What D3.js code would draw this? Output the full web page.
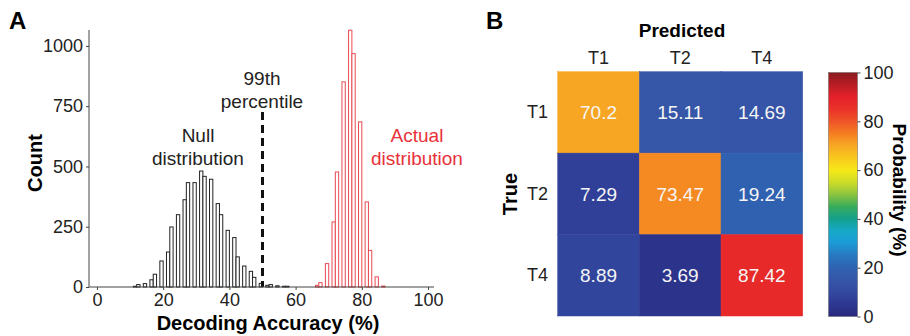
<!DOCTYPE html>
<html>
<head>
<meta charset="utf-8">
<script src="https://cdn.jsdelivr.net/npm/d3@7"></script>
<style>
  html, body { margin: 0; padding: 0; background: #fff; }
  svg { display: block; font-family: "Liberation Sans", Arial, sans-serif; }
</style>
</head>
<body>
<div id="chart"></div>
<script>
// ---- data ----
// panel A: histogram bins (left edge, % accuracy) and counts
const nullBins = [11, 12, 14, 16, 17, 19, 21, 22, 24, 26, 27, 29, 31, 32, 34, 36, 37, 39, 41, 42, 44, 46, 47, 49, 51, 52, 54, 56, 57];
const nullCounts = [3, 10, 14, 30, 53, 108, 145, 249, 300, 362, 433, 433, 481, 459, 447, 346, 300, 235, 205, 125, 87, 65, 40, 15, 7, 10, 5, 3, 3];
const actualBins = [66, 67, 69, 71, 72, 74, 76, 77, 79, 81, 82, 84, 86];
const actualCounts = [7, 18, 97, 270, 477, 851, 1065, 968, 685, 353, 152, 42, 4];
const percentile99 = 50;
const xTicks = [0, 20, 40, 60, 80, 100];
const yTicks = [0, 250, 500, 750, 1000];

// panel B: confusion matrix (rows = true, cols = predicted)
const predLabels = ["T1", "T2", "T4"];
const trueLabels = ["T1", "T2", "T4"];
const probs = [
    [70.2, 15.11, 14.69],
    [7.29, 73.47, 19.24],
    [8.89, 3.69, 87.42]
];
const cbTicks = [0, 20, 40, 60, 80, 100];

const W = 910, H = 336;
const red = "#e8313a";

const svg = d3.select("#chart").append("svg")
    .attr("width", W)
    .attr("height", H);

// ================= panel A =================
const x = d3.scaleLinear().domain([-2.4, 101.8]).range([89, 434]);
const y = d3.scaleLinear().domain([0, 1066]).range([287, 30]);

const gA = svg.append("g");

function drawBars(bins, counts, color) {
    gA.append("g").selectAll("rect")
        .data(bins.map((b, i) => ({ b, c: counts[i] })))
        .enter().append("rect")
        .attr("x", d => x(d.b))
        .attr("y", d => y(d.c))
        .attr("width", d => x(d.b + 1) - x(d.b))
        .attr("height", d => y(0) - y(d.c))
        .attr("fill", "#fff")
        .attr("stroke", color)
        .attr("stroke-width", 1);
}
drawBars(nullBins, nullCounts, "#222");
drawBars(actualBins, actualCounts, "#e84a52");

// 99th percentile marker
gA.append("line")
    .attr("x1", x(percentile99)).attr("x2", x(percentile99))
    .attr("y1", 112).attr("y2", y(0))
    .attr("stroke", "#111")
    .attr("stroke-width", 3)
    .attr("stroke-dasharray", "8,5");

// axes
const xAxis = d3.axisBottom(x).tickValues(xTicks).tickSize(3).tickPadding(3);
const yAxis = d3.axisLeft(y).tickValues(yTicks).tickSize(3).tickPadding(3).tickFormat(d3.format("d"));

const gx = gA.append("g").attr("transform", `translate(0,${y(0)})`).call(xAxis);
const gy = gA.append("g").attr("transform", `translate(${x.range()[0]},0)`).call(yAxis);
[gx, gy].forEach(g => {
    g.select(".domain").attr("stroke", "#444");
    g.selectAll(".tick line").attr("stroke", "#444");
    g.selectAll(".tick text").attr("font-size", 18).attr("fill", "#222")
        .attr("font-family", "Liberation Sans, Arial, sans-serif");
});
gx.select(".domain").attr("d", `M${x.range()[0]},0H${x.range()[1]}`);
gy.select(".domain").attr("d", `M0,${y.range()[0]}V${y.range()[1]}`);

// labels
gA.append("text").attr("x", 9).attr("y", 29)
    .attr("font-size", 24).attr("font-weight", "bold").text("A");

gA.append("text")
    .attr("transform", "translate(42,163) rotate(-90)")
    .attr("text-anchor", "middle")
    .attr("font-size", 20).attr("font-weight", "bold")
    .text("Count");

gA.append("text").attr("x", 268).attr("y", 330)
    .attr("text-anchor", "middle")
    .attr("font-size", 20).attr("font-weight", "bold")
    .text("Decoding Accuracy (%)");

const note = (tx, ty, lines, color) => {
    const t = gA.append("text").attr("text-anchor", "middle")
        .attr("font-size", 19).attr("fill", color);
    lines.forEach((s, i) => t.append("tspan").attr("x", tx).attr("y", ty + i * 23).text(s));
};
note(262, 85, ["99th", "percentile"], "#222");
note(198, 142, ["Null", "distribution"], "#222");
note(417, 142, ["Actual", "distribution"], red);

// ================= panel B =================
const gB = svg.append("g");

const color = d3.scaleLinear()
    .domain([0, 5, 10, 15, 20, 25, 30, 35, 40, 45, 50, 55, 60, 65, 70, 75, 80, 85, 90, 95, 100])
    .range(["#29287c", "#2d3790", "#3449a0", "#3656a8", "#2f62b2", "#2878c0", "#1c9ad6", "#16a9c8",
        "#14a08e", "#35ab5a", "#8cc43f", "#cddc28", "#f6e817", "#f8c81c", "#f7a823", "#f47d22",
        "#ef5527", "#eb3129", "#e4202a", "#b81d24", "#8a1b1f"])
    .interpolate(d3.interpolateRgb);

const cx = d3.scaleBand().domain(predLabels).range([557.7, 802.7]);
const cy = d3.scaleBand().domain(trueLabels).range([71.7, 316]);

const cells = probs.flatMap((row, i) => row.map((v, j) => ({ r: trueLabels[i], c: predLabels[j], v })));

gB.append("g").selectAll("rect")
    .data(cells).enter().append("rect")
    .attr("x", d => cx(d.c))
    .attr("y", d => cy(d.r))
    .attr("width", cx.bandwidth())
    .attr("height", cy.bandwidth())
    .attr("fill", d => color(d.v))
    .attr("stroke", d => color(d.v))
    .attr("stroke-width", 0.5);

gB.append("g").selectAll("text")
    .data(cells).enter().append("text")
    .attr("x", d => cx(d.c) + cx.bandwidth() / 2)
    .attr("y", d => cy(d.r) + cy.bandwidth() / 2 + 7)
    .attr("text-anchor", "middle")
    .attr("font-size", 19)
    .attr("fill", "#f5f5f5")
    .text(d => d.v);

// column / row labels
gB.append("g").selectAll("text")
    .data(predLabels).enter().append("text")
    .attr("x", d => cx(d) + cx.bandwidth() / 2)
    .attr("y", 64)
    .attr("text-anchor", "middle")
    .attr("font-size", 18).attr("fill", "#222")
    .text(d => d);

gB.append("g").selectAll("text")
    .data(trueLabels).enter().append("text")
    .attr("x", 548)
    .attr("y", d => cy(d) + cy.bandwidth() / 2 + 6)
    .attr("text-anchor", "end")
    .attr("font-size", 18).attr("fill", "#222")
    .text(d => d);

gB.append("text").attr("x", 486).attr("y", 29)
    .attr("font-size", 24).attr("font-weight", "bold").text("B");

gB.append("text").attr("x", 682).attr("y", 37)
    .attr("text-anchor", "middle")
    .attr("font-size", 19).attr("font-weight", "bold")
    .text("Predicted");

gB.append("text")
    .attr("transform", "translate(517,194) rotate(-90)")
    .attr("text-anchor", "middle")
    .attr("font-size", 20).attr("font-weight", "bold")
    .text("True");

// colorbar
const cbY = d3.scaleLinear().domain([0, 100]).range([316.5, 72.5]);
const cbX0 = 828.5, cbW = 29;

const grad = svg.append("defs").append("linearGradient")
    .attr("id", "cbgrad")
    .attr("x1", 0).attr("y1", 1).attr("x2", 0).attr("y2", 0);
grad.selectAll("stop")
    .data(d3.range(0, 101, 2.5))
    .enter().append("stop")
    .attr("offset", d => d / 100)
    .attr("stop-color", d => color(d));

gB.append("rect")
    .attr("x", cbX0).attr("y", cbY(100))
    .attr("width", cbW).attr("height", cbY(0) - cbY(100))
    .attr("fill", "url(#cbgrad)")
    .attr("stroke", "#666").attr("stroke-width", 0.5);

const cbAxis = d3.axisRight(cbY).tickValues(cbTicks).tickSize(3).tickPadding(3);
const gcb = gB.append("g").attr("transform", `translate(${cbX0 + cbW},0)`).call(cbAxis);
gcb.select(".domain").remove();
gcb.selectAll(".tick line").attr("stroke", "#444");
gcb.selectAll(".tick text").attr("font-size", 18).attr("fill", "#222")
    .attr("font-family", "Liberation Sans, Arial, sans-serif");

// colorbar title, kept just inside the right edge
gB.append("text")
    .attr("transform", "translate(893,190) rotate(90)")
    .attr("text-anchor", "middle")
    .attr("font-size", 19).attr("font-weight", "bold")
    .text("Probability (%)");
</script>
</body>
</html>
